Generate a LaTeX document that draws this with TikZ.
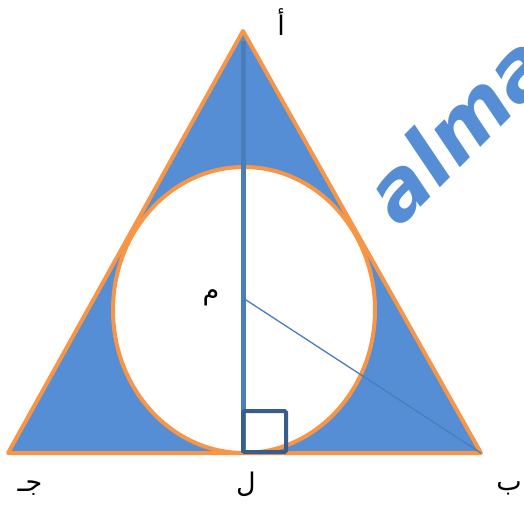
\documentclass[tikz,border=0pt]{standalone}
\usepackage{fontspec}
\newfontfamily\arabicfont[Script=Arabic]{DejaVu Sans}
\newfontfamily\wmfont{DejaVu Sans}
\TeXXeTstate=1
\definecolor{fillblue}{RGB}{85,142,213}
\definecolor{edgeorange}{RGB}{247,150,70}
\definecolor{lineblue}{RGB}{74,126,187}
\definecolor{darkblue}{RGB}{56,93,138}
\tikzset{
  lbl/.style={inner sep=0pt, font=\fontsize{27}{30}\selectfont\arabicfont}
}
\begin{document}
\begin{tikzpicture}[x=1pt,y=-1pt]
\useasboundingbox (0,0) rectangle (524,504);
\clip (0,0) rectangle (524,504);
% watermark
\node[rotate=45, anchor=base west, inner sep=0pt, text=fillblue,
      font=\fontsize{82}{82}\selectfont\wmfont\bfseries\itshape] (wm) at (399,229) {alma};
% points
\coordinate (A) at (243,31);
\coordinate (B) at (481,453);
\coordinate (C) at (8,453);
\coordinate (M) at (243,298);
\coordinate (L) at (243,453);
\coordinate (O) at (244,310);
% triangle
\draw[edgeorange, line width=4pt, line join=round, fill=fillblue] (A) -- (B) -- (C) -- cycle;
% inscribed circle
\draw[edgeorange, line width=4pt, fill=white] (O) ellipse [x radius=131, y radius=143];
% altitude and radius
\draw[lineblue, line width=5pt] (A) ++(0,10) -- (L);
\draw[lineblue, line width=1.3pt] (M) -- (B);
% right angle mark
\draw[darkblue, line width=4pt, rounded corners=1.5pt] (243,411) rectangle (286,452);
% labels
\node[lbl] (la) at (281,22) {\beginR أ\endR};
\node[lbl] (lm) at (211,298) {\beginR م\endR};
\node[lbl] (lj) at (30,488) {\beginR جـ\endR};
\node[lbl] (ll) at (246,484) {\beginR ل\endR};
\node[lbl] (lb) at (509,488) {\beginR ب\endR};
\end{tikzpicture}
\end{document}
